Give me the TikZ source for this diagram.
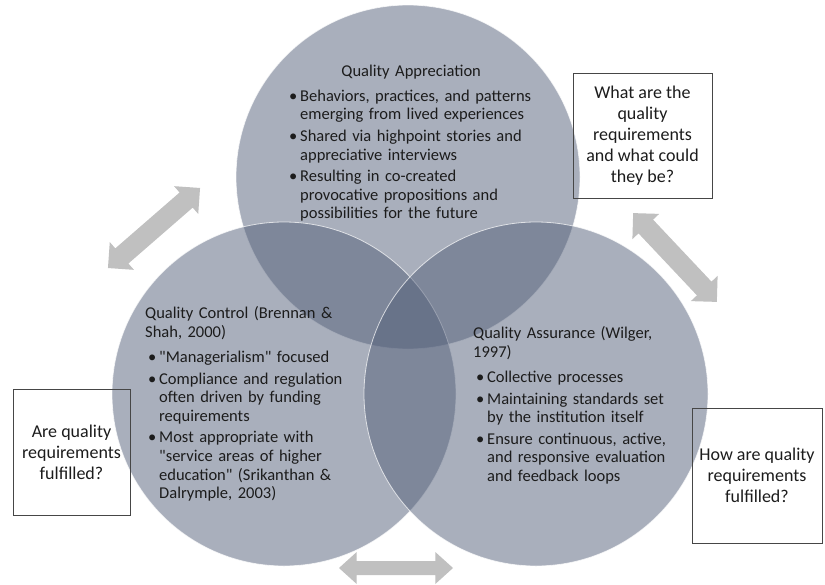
\documentclass[tikz,border=0pt]{standalone}
\usepackage{fontspec}
\setmainfont{Carlito}[Ligatures=TeXOff]
\definecolor{venncol}{RGB}{84,96,122}
\definecolor{arrowcol}{RGB}{192,192,192}
\definecolor{boxcol}{RGB}{70,70,70}
\definecolor{textcol}{RGB}{28,28,28}
\newcommand{\bul}{\par\hangindent=14pt\hangafter=1\noindent\makebox[14pt][c]{\textbullet}}
% center, angle, half length, shaft half width, head half width, head length
\newcommand{\blockarrow}[6]{%
  \fill[arrowcol, shift={#1}, rotate=#2]
    (-#3,0) -- (-#3+#6,#5) -- (-#3+#6,#4) -- (#3-#6,#4) -- (#3-#6,#5) -- (#3,0)
    -- (#3-#6,-#5) -- (#3-#6,-#4) -- (-#3+#6,-#4) -- (-#3+#6,-#5) -- cycle;}
\begin{document}
\begin{tikzpicture}[x=1pt,y=-1pt,
  venn/.style={circle, minimum size=344pt, inner sep=0pt, fill=venncol,
    fill opacity=0.5, draw=white, draw opacity=0.7, line width=0.8pt},
  qbox/.style={draw=boxcol, line width=0.7pt, align=center, inner sep=0pt,
    font=\fontsize{18}{21}\selectfont, text=textcol},
  ctext/.style={anchor=north west, inner sep=0pt, align=left,
    font=\fontsize{16.5}{18.6}\selectfont, text=textcol}]
\useasboundingbox[fill=white] (0,0) rectangle (825,584);
% block arrows
\blockarrow{(154,228)}{41}{61}{10}{18.4}{18.4}
\blockarrow{(675,257.5)}{-46.7}{61}{10}{18.4}{18.4}
\blockarrow{(396,568)}{0}{57}{7}{16}{17.7}
% circles
\node[venn] (app) at (408,177) {};
\node[venn] (ctl) at (284,394) {};
\node[venn] (ass) at (536,394) {};
% circle texts
\node[ctext, text width=250pt] (apptxt) at (286,64.5) {\setlength{\parskip}{3pt}%
  {\centering Quality Appreciation\par}\vspace{3.5pt}%
  \bul Behaviors, practices, and patterns\newline emerging from lived experiences
  \bul Shared via highpoint stories and\newline appreciative interviews
  \bul Resulting in co-created\newline provocative propositions and\newline possibilities for the future\par};
\node[ctext, text width=230pt] (ctltxt) at (145,306.5) {\setlength{\parskip}{3pt}%
  \noindent Quality Control (Brennan \&\newline Shah, 2000)\par\vspace{3.5pt}%
  \bul "Managerialism" focused
  \bul Compliance and regulation\newline often driven by funding\newline requirements
  \bul Most appropriate with\newline "service areas of higher\newline education" (Srikanthan \&\newline Dalrymple, 2003)\par};
\node[ctext, text width=230pt] (asstxt) at (473,326.5) {\setlength{\parskip}{3pt}%
  \noindent Quality Assurance (Wilger,\newline 1997)\par\vspace{3.5pt}%
  \bul Collective processes
  \bul Maintaining standards set\newline by the institution itself
  \bul Ensure continuous, active,\newline and responsive evaluation\newline and feedback loops\par};
% question boxes
\node[qbox, minimum width=139pt, minimum height=125pt] (qwhat) at (642.5,135.5)
  {What are the\\quality\\requirements\\and what could\\they be?};
\node[qbox, minimum width=117pt, minimum height=126pt] (qare) at (71.5,452)
  {Are quality\\requirements\\fulfilled?};
\node[qbox, minimum width=130pt, minimum height=135pt] (qhow) at (757,475.5)
  {How are quality\\requirements\\fulfilled?};
\end{tikzpicture}
\end{document}
